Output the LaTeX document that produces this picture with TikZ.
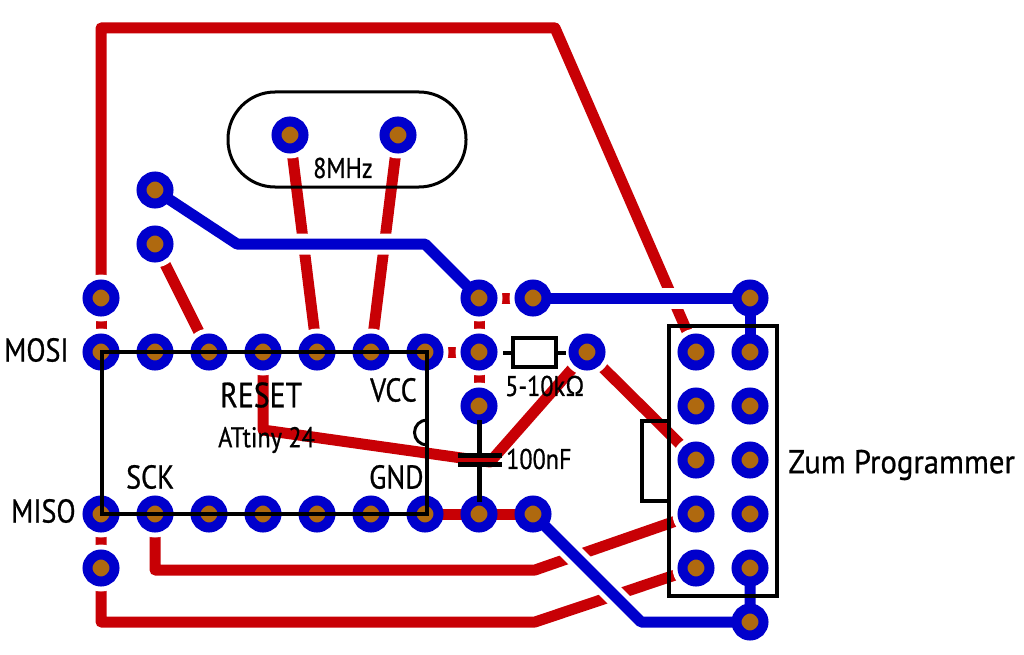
\documentclass[tikz,border=0pt]{standalone}
\usepackage{fontspec}
\setmainfont{PT Sans}
\newfontfamily\lblfont[FakeStretch=0.85,FakeBold=0.7]{PT Sans}
\newfontfamily\zumfont[FakeStretch=0.93,FakeBold=0.7]{PT Sans}
\usetikzlibrary{backgrounds}
\definecolor{trackred}{RGB}{200,0,5}
\definecolor{padblue}{RGB}{0,0,204}
\definecolor{padbrown}{RGB}{175,105,15}
\pgfdeclarelayer{redlayer}\pgfdeclarelayer{halolayer}\pgfdeclarelayer{bluelayer}\pgfdeclarelayer{inklayer}
\pgfsetlayers{redlayer,halolayer,bluelayer,main,inklayer}
\tikzset{
  pad/.style={circle,inner sep=0pt,minimum size=27pt,fill=padbrown,draw=padblue,line width=10pt},
  redtrack/.style={draw=trackred,line width=11pt,line join=round},
  bluecase/.style={draw=white,line width=21pt,line join=round},
  bluetrack/.style={draw=padblue,line width=11pt,line join=round},
  ink/.style={draw=black,line width=4pt,line join=miter},
  lbl/.style={inner sep=0pt,text=black,font=\lblfont\fontsize{33}{33}\selectfont},
  lblsmall/.style={inner sep=0pt,text=black,font=\lblfont\fontsize{28.5}{28.5}\selectfont},
}
\begin{document}
\begin{tikzpicture}[x=1pt,y=-1pt]
\begin{pgfonlayer}{redlayer}
\fill[white] (0,0) rectangle (1024,655);
\end{pgfonlayer}
\useasboundingbox (0,0) rectangle (1024,655);
% pads
\foreach \n/\x/\y in {
  a1/101/298,a2/155/244,a3/155/190,c1/290/135,c2/398/135,
  t1/101/352,t2/155/352,t3/209/352,t4/263/352,t5/317/352,t6/371/352,t7/425/352,t8/479/352,
  b1/101/514,b2/155/514,b3/209/514,b4/263/514,b5/317/514,b6/371/514,b7/425/514,b8/479/514,b9/533/514,
  u1/101/568,m1/479/298,m2/533/298,m3/479/406,r1/587/352,
  h0/750/298,h1/696/352,h2/750/352,h3/696/406,h4/750/406,h5/696/460,h6/750/460,
  h7/696/514,h8/750/514,h9/696/568,h10/750/568,h11/750/622}{
  \node[pad] (\n) at (\x,\y) {};
  \begin{pgfonlayer}{halolayer}\fill[white] (\x,\y) circle (23.5pt);\end{pgfonlayer}
}
\coordinate (k1) at (101,28);
\coordinate (k2) at (555,28);
\coordinate (k3) at (263,430);
\coordinate (k4) at (490,462);
\coordinate (k5) at (155,570);
\coordinate (k6) at (535,570);
\coordinate (k7) at (101,622);
\coordinate (k8) at (535,622);
\coordinate (k9) at (237,244);
\coordinate (k10) at (425,244);
\coordinate (k11) at (641,622);
% red tracks
\begin{pgfonlayer}{redlayer}
\path[redtrack] (a1.center) -- (k1) -- (k2) -- (h1.center);
\path[redtrack] (a1.center) -- (t1.center);
\path[redtrack] (a2.center) -- (t3.center);
\path[redtrack] (c1.center) -- (t5.center);
\path[redtrack] (c2.center) -- (t6.center);
\path[redtrack] (t7.center) -- (t8.center);
\path[redtrack] (m1.center) -- (m2.center);
\path[redtrack] (m1.center) -- (m3.center);
\path[redtrack] (t4.center) -- (k3) -- (k4) -- (r1.center) -- (h5.center);
\path[redtrack] (b1.center) -- (u1.center) -- (k7) -- (k8) -- (h9.center);
\path[redtrack] (b2.center) -- (k5) -- (k6) -- (h7.center);
\end{pgfonlayer}
% blue tracks
\begin{pgfonlayer}{bluelayer}
\path[redtrack] (b7.center) -- (b9.center);
\path[bluecase] (a3.center) -- (k9) -- (k10) -- (m1.center);
\path[bluecase] (m2.center) -- (h0.center);
\path[bluecase] (b9.center) -- (k11) -- (h11.center);
\path[bluetrack] (a3.center) -- (k9) -- (k10) -- (m1.center);
\path[bluetrack] (m2.center) -- (h0.center) -- (h2.center);
\path[bluetrack] (b9.center) -- (k11) -- (h11.center) -- (h10.center);
\end{pgfonlayer}
% black outlines and labels
\begin{pgfonlayer}{inklayer}
\node[ink,rounded corners=47pt,minimum width=238pt,minimum height=95pt,line width=3pt] (xtal) at (347,139.5) {};
\draw[ink] (102,352) rectangle (427,514);
\draw[ink,line width=3pt] (427,420) arc[start angle=90,end angle=270,radius=12.5pt];
\node[ink,minimum width=108pt,minimum height=270pt,inner sep=0pt] (hdr) at (723,461) {};
\draw[ink] (669,421) -- (642,421) -- (642,501) -- (669,501);
\node[ink,minimum width=43pt,minimum height=29pt,inner sep=0pt] (res) at (534.5,352.5) {};
\draw[ink] (res.west) -- ++(-8,0);
\draw[ink] (res.east) -- ++(8,0);
\coordinate (capa) at (479.5,455);
\coordinate (capb) at (479.5,464);
\coordinate (capc) at (479.5,420);
\coordinate (capd) at (479.5,502);
\draw[ink,line width=5pt] (458,455) -- (502,455);
\draw[ink,line width=5pt] (458,464) -- (502,464);
\draw[ink,line width=5pt] (capc) -- (capa);
\draw[ink,line width=5pt] (capb) -- (capd);
\node[lbl,anchor=west] (lmosi) at (4,350) {MOSI};
\node[lbl,anchor=west] (lmiso) at (11,511) {MISO};
\node[lbl,anchor=west,font=\lblfont\fontsize{35}{35}\selectfont] (lreset) at (220,395) {RESET};
\node[lbl,anchor=west] (lvcc) at (370,390) {VCC};
\node[lbl,anchor=west] (lsck) at (126,477) {SCK};
\node[lbl,anchor=west] (lgnd) at (369,477) {GND};
\node[lblsmall,anchor=west] (lat) at (218,440) {ATtiny 24};
\node[lblsmall,anchor=west] (lxt) at (313,168) {8MHz};
\node[lblsmall,anchor=west] (lr) at (505,386) {5-10kΩ};
\node[lblsmall,anchor=west] (lc) at (506,459) {100nF};
\node[lbl,anchor=west,font=\zumfont\fontsize{33}{33}\selectfont] (lz) at (788,465) {Zum Programmer};
\end{pgfonlayer}
\end{tikzpicture}
\end{document}
